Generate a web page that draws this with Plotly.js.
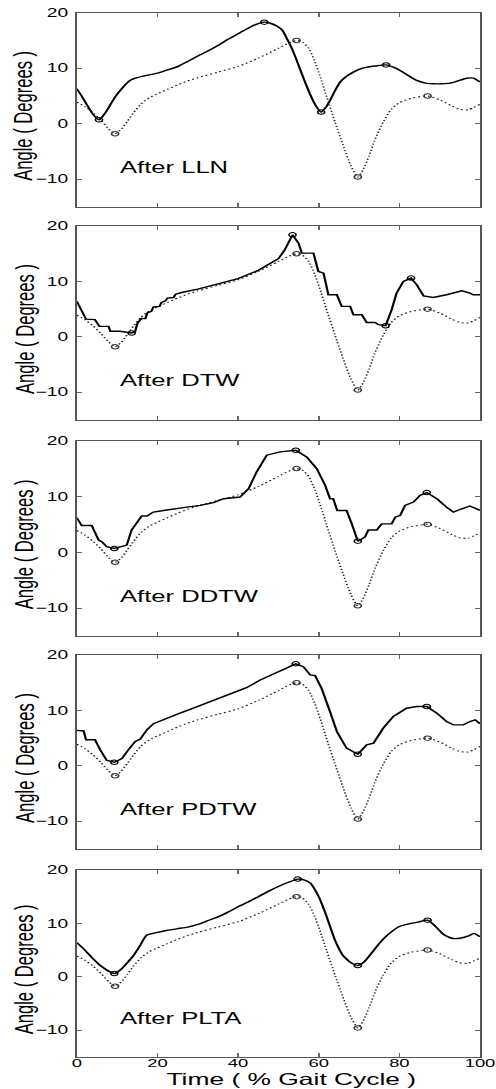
<!DOCTYPE html>
<html>
<head>
<meta charset="utf-8">
<script src="https://cdn.plot.ly/plotly-3.0.1.min.js"></script>
<style>
html,body{margin:0;padding:0;overflow:hidden;background:#fff;}
#wrap{width:310px;height:1089px;transform:scale(1.6,1);transform-origin:0 0;}
#chart{width:310px;height:1089px;}
</style>
</head>
<body>
<div id="wrap"><div id="chart"></div></div>
<script>
// ---------- data ----------
const panelNames = ["After LLN", "After DTW", "After DDTW", "After PDTW", "After PLTA"];
const xTickVals = [0, 20, 40, 60, 80, 100];
const yTickVals = [-10, 0, 10, 20];

// reference (dotted) curve, same in every panel
const refX = [0, 2, 4, 6, 8, 9.5, 11, 12.5, 14, 16, 18, 20, 22.5, 25, 27.5, 30, 35, 40, 45, 50, 52.5, 54.5, 56, 57.5, 59, 60.5, 62, 64, 66, 68, 69.7, 71, 72.5, 74, 76, 78, 80, 83, 87, 90, 93, 95, 97, 100];
const refY = [3.9, 3.1, 2.0, 0.6, -1.0, -1.8, -1.0, 0.4, 1.9, 3.6, 4.7, 5.4, 6.2, 7.0, 7.7, 8.3, 9.3, 10.3, 11.8, 13.6, 14.5, 15.0, 14.7, 13.6, 11.3, 8.2, 4.8, 0.4, -3.8, -7.6, -9.6, -8.3, -5.8, -2.8, 0.3, 2.6, 3.8, 4.6, 5.0, 4.3, 3.2, 2.6, 2.5, 3.5];
const refMarkX = [9.5, 54.5, 69.7, 87];
const refMarkY = [-1.8, 15.0, -9.6, 5.0];

// After LLN
const llnX = [0, 1.2, 2.5, 4, 5.5, 7, 8.3, 9.5, 11, 13.2, 15, 17.3, 20, 22.5, 25, 27.5, 30, 32.5, 35, 37.5, 40, 42.5, 44.5, 46.5, 48, 49.6, 51, 52, 53.2, 54.5, 55.8, 57, 58.3, 59.5, 60.6, 61.7, 62.8, 64, 65.3, 67, 68.6, 70, 72, 74, 76.7, 78.5, 80.2, 82, 84.3, 86.5, 88.4, 90.5, 92.6, 94.5, 96.7, 98.3, 100];
const llnY = [6.3, 5.0, 3.4, 1.7, 0.7, 1.9, 3.4, 4.8, 6.2, 7.8, 8.3, 8.7, 9.1, 9.7, 10.3, 11.2, 12.2, 13.1, 14.1, 15.2, 16.2, 17.2, 17.9, 18.3, 18.1, 17.6, 16.8, 15.5, 13.8, 11.5, 9.0, 6.8, 4.6, 3.0, 2.1, 2.9, 4.2, 5.9, 7.5, 8.6, 9.3, 9.8, 10.2, 10.4, 10.6, 10.2, 9.6, 8.8, 7.8, 7.3, 7.2, 7.2, 7.3, 7.7, 8.2, 8.2, 7.5];
const llnMarkX = [5.5, 46.5, 60.6, 76.7];
const llnMarkY = [0.7, 18.3, 2.1, 10.6];

// After DTW
const dtwX = [0, 2.3, 4.5, 5.6, 7.9, 8.3, 10.7, 13.6, 14.5, 15, 16, 17, 17.5, 18.5, 19, 20.5, 21, 22, 22.5, 24, 24.5, 26, 30, 35, 40, 45, 48, 50, 51.5, 53.5, 55, 55.8, 58.7, 59.9, 61.2, 62.4, 64.5, 65.7, 67.8, 68.6, 70.7, 71.9, 74, 74.8, 76.6, 78.1, 79.3, 81, 82.9, 84.3, 86, 88.4, 91.7, 95.5, 97.5, 98.3, 100];
const dtwY = [6.4, 3.2, 3.1, 1.9, 1.9, 1.0, 1.0, 0.7, 1.0, 2.4, 3.3, 3.3, 4.3, 4.6, 5.4, 5.5, 6.2, 6.5, 7.0, 7.1, 7.7, 8.0, 8.6, 9.6, 10.5, 12.0, 13.2, 14.1, 15.6, 18.4, 16.9, 15.1, 15.1, 11.8, 11.5, 7.6, 7.6, 5.5, 5.5, 4.0, 4.0, 2.6, 2.6, 2.2, 2.0, 4.9, 7.9, 10.0, 10.6, 9.4, 7.4, 7.1, 7.6, 8.3, 7.9, 7.6, 7.6];
const dtwMarkX = [13.6, 53.5, 76.6, 82.9];
const dtwMarkY = [0.7, 18.4, 2.0, 10.6];

// After DDTW
const ddtwX = [0, 1.2, 3.7, 5.4, 6.2, 7.4, 9.3, 10.7, 12.4, 13.6, 16.1, 17.4, 19, 21.5, 24, 27.3, 30.6, 33.9, 36.4, 40.5, 42.6, 44.6, 47.1, 50.4, 54.3, 57, 59.5, 61.6, 62.8, 63.6, 64.6, 66.9, 68.2, 69.7, 71.5, 72.3, 74.4, 75.6, 78.1, 79, 80.2, 81.4, 83.5, 85.1, 86.8, 89.3, 91.7, 93.4, 95.5, 97.5, 100];
const ddtwY = [6.2, 4.8, 4.8, 2.2, 1.9, 1.0, 0.7, 1.0, 1.3, 4.0, 6.5, 6.5, 7.2, 7.5, 7.8, 8.1, 8.4, 8.9, 9.6, 9.9, 11.4, 14.4, 17.4, 18.0, 18.3, 17.1, 15.0, 12.0, 9.6, 9.6, 7.5, 7.5, 5.1, 2.0, 2.75, 4.0, 4.0, 5.1, 5.1, 6.3, 6.6, 8.4, 9.0, 10.2, 10.7, 9.6, 8.1, 7.2, 7.8, 8.3, 7.5];
const ddtwMarkX = [9.3, 54.3, 69.7, 86.8];
const ddtwMarkY = [0.66, 18.3, 2.0, 10.7];

// After PDTW
const pdtwX = [0, 1.7, 2.3, 4.5, 5.8, 7.4, 9.3, 11.2, 12.8, 14.5, 15.7, 17.4, 19, 22.3, 25.6, 28.9, 32.2, 35.5, 38.8, 42.1, 45.5, 48.8, 52.1, 54.3, 56.2, 57.9, 59.1, 60.7, 62.8, 64.5, 66.9, 69.7, 71.9, 73.6, 76, 78.5, 81.8, 84.3, 86.8, 89.3, 91.7, 93.4, 95.9, 97.5, 98.8, 100];
const pdtwY = [6.4, 6.3, 4.7, 4.7, 2.9, 1.0, 0.66, 1.3, 2.9, 4.4, 4.8, 6.5, 7.6, 8.6, 9.5, 10.4, 11.3, 12.3, 13.1, 14.1, 15.5, 16.6, 17.6, 18.4, 17.9, 16.4, 16.3, 14.0, 9.8, 6.2, 3.2, 2.1, 3.8, 4.1, 6.8, 8.9, 10.4, 10.7, 10.7, 9.5, 8.0, 7.4, 7.4, 8.0, 8.3, 7.6];
const pdtwMarkX = [9.3, 54.3, 69.7, 86.8];
const pdtwMarkY = [0.66, 18.4, 2.1, 10.7];

// After PLTA
const pltaX = [0, 2, 4, 6, 8, 9.3, 11, 12.5, 14, 15.5, 17.4, 20, 22.5, 25, 27.5, 30, 32.5, 35, 37.5, 40, 42.5, 45, 47.5, 50, 52.5, 54.8, 56.5, 58, 59, 60, 61, 62, 63, 64, 65, 66, 68, 69.7, 71, 72, 73.5, 75, 76.5, 78, 80, 83, 85, 87, 89, 91, 93, 95, 97, 98.5, 100];
const pltaY = [6.4, 5.0, 3.4, 2.0, 1.0, 0.6, 1.4, 2.6, 3.9, 5.6, 7.8, 8.3, 8.7, 9.0, 9.3, 9.8, 10.5, 11.2, 12.1, 13.1, 14.0, 15.0, 16.0, 16.9, 17.7, 18.3, 18.1, 17.5, 16.4, 15.0, 13.2, 11.2, 9.0, 6.9, 5.3, 4.0, 2.6, 2.1, 2.6, 3.4, 4.8, 6.2, 7.4, 8.4, 9.4, 10.0, 10.3, 10.6, 9.4, 7.9, 7.2, 7.2, 7.6, 8.1, 7.5];
const pltaMarkX = [9.3, 54.8, 69.7, 87];
const pltaMarkY = [0.6, 18.3, 2.1, 10.6];

// ---------- layout ----------
const solidSeries = [
  {x: llnX, y: llnY, mx: llnMarkX, my: llnMarkY, shape: "spline"},
  {x: dtwX, y: dtwY, mx: dtwMarkX, my: dtwMarkY, shape: "linear"},
  {x: ddtwX, y: ddtwY, mx: ddtwMarkX, my: ddtwMarkY, shape: "linear"},
  {x: pdtwX, y: pdtwY, mx: pdtwMarkX, my: pdtwMarkY, shape: "linear"},
  {x: pltaX, y: pltaY, mx: pltaMarkX, my: pltaMarkY, shape: "spline"}
];

const W = 310, H = 1089, L = 48, R = 10, K = 496 / W;
const tops = [12.7, 226, 440.7, 655, 870];
const bottoms = [207, 420, 636, 849, 1056.7];
const font = "Liberation Sans, Arial, Helvetica, sans-serif";

const traces = [];
const layout = {
  width: W, height: H,
  margin: {l: L, r: R, t: 0, b: 0},
  paper_bgcolor: "#fff", plot_bgcolor: "#fff",
  showlegend: false,
  font: {family: font, color: "#000", size: 12},
  annotations: []
};

for (let i = 0; i < 5; i++) {
  const s = i === 0 ? "" : String(i + 1);
  const xa = "x" + s, ya = "y" + s;
  traces.push({x: refX, y: refY, xaxis: xa, yaxis: ya, mode: "lines",
    line: {color: "#222", width: 1.1, dash: "1.2px,1.9px", shape: "spline", smoothing: 0.6}, hoverinfo: "skip"});
  traces.push({x: refMarkX, y: refMarkY, xaxis: xa, yaxis: ya, mode: "markers",
    marker: {symbol: "circle-open", size: 4.5, color: "#333", line: {width: 1, color: "#333"}}, hoverinfo: "skip"});
  const sv = solidSeries[i];
  traces.push({x: sv.x, y: sv.y, xaxis: xa, yaxis: ya, mode: "lines",
    line: {color: "#000", width: 1.4, shape: sv.shape, smoothing: 0.6}, hoverinfo: "skip"});
  traces.push({x: sv.mx, y: sv.my, xaxis: xa, yaxis: ya, mode: "markers",
    marker: {symbol: "circle-open", size: 4.5, color: "#000", line: {width: 1, color: "#000"}}, hoverinfo: "skip"});

  layout["xaxis" + s] = {
    domain: [0, 1], anchor: ya, range: [0, 100], tickvals: xTickVals,
    ticks: "inside", ticklen: 4, tickwidth: 1, tickcolor: "#666", mirror: "ticks",
    showline: true, linecolor: "#555", linewidth: 1, showgrid: false, zeroline: false,
    showticklabels: i === 4, ticklabeloverflow: "allow", ticklabelstandoff: -4,
    tickfont: {family: font, size: 11.5, color: "#000"}
  };
  layout["yaxis" + s] = {
    domain: [1 - bottoms[i] / H, 1 - tops[i] / H], anchor: xa, range: [-15, 20], tickvals: yTickVals,
    ticks: "inside", ticklen: 3, tickwidth: 1, tickcolor: "#666", mirror: "ticks",
    showline: true, linecolor: "#555", linewidth: 1, showgrid: false, zeroline: false,
    ticklabelstandoff: 2, tickfont: {family: font, size: 12, color: "#000"}
  };
  layout.annotations.push({
    text: panelNames[i], xref: xa, yref: ya, x: 10, y: -7.9, xanchor: "left", yanchor: "middle",
    showarrow: false, font: {family: font, size: 16, color: "#000"}
  });
  layout.annotations.push({
    text: "Angle ( Degrees )", xref: "paper", yref: "paper",
    x: (24 / K - L) / (W - L - R), y: 1 - ((tops[i] + bottoms[i]) / 2 + 6) / H,
    xanchor: "center", yanchor: "middle", textangle: -90, showarrow: false,
    font: {family: font, size: 16.6, color: "#000"}
  });
}
layout.annotations.push({
  text: "Time ( % Gait Cycle )", xref: "paper", yref: "paper",
  x: 0.53, y: 1 - 1078.5 / H, xanchor: "center", yanchor: "middle", showarrow: false,
  font: {family: font, size: 16.5, color: "#000"}
});

Plotly.newPlot("chart", traces, layout, {displayModeBar: false, staticPlot: true});
</script>
</body>
</html>
